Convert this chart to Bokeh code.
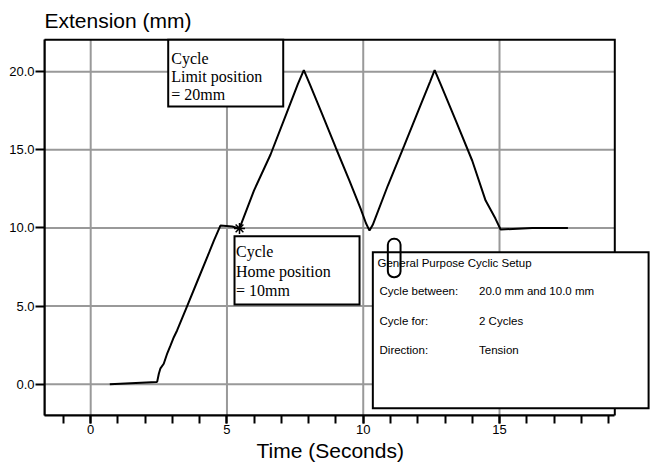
from bokeh.plotting import figure
from bokeh.models import FixedTicker, Label, Range1d, Title
from bokeh.embed import file_html
from bokeh.resources import INLINE

# ---------------- data ----------------
time_s = [0.70, 2.42, 2.44, 2.50, 2.56, 2.68, 2.81, 2.93, 3.05, 3.17, 3.55, 3.95,
          4.35, 4.52, 4.76, 5.19, 5.38, 5.46, 5.99, 6.60, 7.20, 7.60, 7.82, 8.05,
          8.50, 9.00, 9.50, 9.90, 10.10, 10.23, 10.35, 10.90, 11.50, 12.10, 12.45,
          12.62, 12.85, 13.40, 14.00, 14.49, 14.85, 15.04, 16.20, 17.51]
ext_mm = [0.00, 0.15, 0.17, 0.67, 1.02, 1.31, 1.98, 2.48, 3.01, 3.44, 5.05, 6.75,
          8.45, 9.19, 10.15, 10.09, 10.00, 9.97, 12.39, 14.70, 17.40, 19.20, 20.10, 19.15,
          17.25, 15.10, 13.00, 11.25, 10.30, 9.83, 10.20, 12.70, 15.25, 17.85, 19.35,
          20.10, 19.15, 16.85, 14.30, 11.75, 10.60, 9.90, 10.00, 10.00]
home_t = [5.46]
home_mm = [9.97]

x_ticks = [0, 5, 10, 15]
x_tick_labels = ["0", "5", "10", "15"]
x_minor_ticks = [-1, 0, 1, 2, 3, 4, 5, 6, 7, 8, 9, 10, 11, 12, 13, 14, 15, 16, 17, 18, 19]
y_ticks = [0, 5, 10, 15, 20]
y_tick_labels = ["0.0", "5.0", "10.0", "15.0", "20.0"]

x_title = "Time (Seconds)"
y_title = "Extension (mm)"
limit_note = ["Cycle", "Limit position", "= 20mm"]
home_note = ["Cycle", "Home position", "= 10mm"]
setup_title = "General Purpose Cyclic Setup"
setup_keys = ["Cycle between:", "Cycle for:", "Direction:"]
setup_values = ["20.0 mm and 10.0 mm", "2 Cycles", "Tension"]

# ---------------- layout (positions only) ----------------
X_LEFT, X_RIGHT, X_VIEW_END = -1.695, 19.23, 20.54
Y_BOTTOM, Y_TOP, Y_VIEW_END = -2.0, 22.04, 22.25
LIMIT_BOX = (2.844, 7.064, 22.04, 17.77)    # left, right, top, bottom
HOME_BOX = (5.277, 9.864, 9.47, 5.10)
SETUP_BOX = (10.352, 20.47, 8.445, -1.535)
CURSOR_BOX = (10.903, 11.369, 9.303, 6.846)

SANS = "Liberation Sans"
SERIF = "Liberation Serif"
GRID = "#999999"

p = figure(width=652, height=464, output_backend="svg", toolbar_location=None,
           x_range=Range1d(X_LEFT, X_VIEW_END), y_range=Range1d(Y_BOTTOM, Y_VIEW_END),
           min_border_left=44, min_border_right=2, min_border_top=36, min_border_bottom=49)
p.outline_line_color = None
p.xgrid.visible = False
p.ygrid.visible = False
p.background_fill_color = "white"
p.border_fill_color = "white"

p.add_layout(Title(text=y_title, align="left", offset=0, standoff=10,
                   text_font=SANS, text_font_size="21px", text_font_style="normal",
                   text_color="black"), "above")
p.add_layout(Title(text=x_title, align="left", offset=212, standoff=0,
                   text_font=SANS, text_font_size="21px", text_font_style="normal",
                   text_color="black"), "below")

# grid lines (from tick lists)
p.segment(x0=x_ticks, y0=[Y_BOTTOM] * len(x_ticks), x1=x_ticks, y1=[Y_TOP] * len(x_ticks),
          line_color=GRID, line_width=2)
p.segment(x0=[X_LEFT] * len(y_ticks), y0=y_ticks, x1=[X_RIGHT] * len(y_ticks), y1=y_ticks,
          line_color=GRID, line_width=2)

# plot border
p.quad(left=[X_LEFT], right=[X_RIGHT], top=[Y_TOP], bottom=[Y_BOTTOM],
       fill_color=None, line_color="black", line_width=2, line_join="miter")

# curve
p.line(time_s, ext_mm, line_color="black", line_width=2)

# annotation boxes
for box in (LIMIT_BOX, HOME_BOX, SETUP_BOX):
    p.quad(left=[box[0]], right=[box[1]], top=[box[2]], bottom=[box[3]],
           fill_color="white", line_color="black", line_width=2, line_join="miter")

p.scatter(home_t, home_mm, marker="asterisk", size=11, line_color="black", line_width=1.5)
p.quad(left=[CURSOR_BOX[0]], right=[CURSOR_BOX[1]], top=[CURSOR_BOX[2]], bottom=[CURSOR_BOX[3]],
       fill_color=None, line_color="black", line_width=2, border_radius=6)

# axes
xa = p.xaxis[0]
xa.ticker = FixedTicker(ticks=x_ticks, minor_ticks=x_minor_ticks)
xa.major_label_overrides = dict(zip(x_ticks, x_tick_labels))
xa.bounds = (X_LEFT, X_RIGHT)
ya = p.yaxis[0]
ya.ticker = FixedTicker(ticks=y_ticks, minor_ticks=[])
ya.major_label_overrides = dict(zip(y_ticks, y_tick_labels))
ya.bounds = (Y_BOTTOM, Y_TOP)
for ax, out in ((xa, 8), (ya, 9)):
    ax.axis_line_color = "black"
    ax.axis_line_width = 2
    ax.major_tick_line_color = "black"
    ax.major_tick_line_width = 2
    ax.major_tick_in = 0
    ax.major_tick_out = out
    ax.minor_tick_line_color = "black"
    ax.minor_tick_line_width = 2
    ax.minor_tick_in = 0
    ax.minor_tick_out = out
    ax.major_label_text_font = SANS
    ax.major_label_text_font_size = "13px"
    ax.major_label_text_color = "black"
    ax.major_label_standoff = 1
ya.minor_tick_out = 0

# box texts
for i, line in enumerate(limit_note):
    p.add_layout(Label(x=LIMIT_BOX[0], y=LIMIT_BOX[2], x_offset=3, y_offset=-(19 + 18 * i),
                       text=line, text_font=SERIF, text_font_size="16px", text_color="black",
                       text_baseline="alphabetic"))
for i, line in enumerate(home_note):
    p.add_layout(Label(x=HOME_BOX[0], y=HOME_BOX[2], x_offset=1.5, y_offset=-(15.5 + 19.3 * i),
                       text=line, text_font=SERIF, text_font_size="16px", text_color="black",
                       text_baseline="alphabetic"))

p.add_layout(Label(x=SETUP_BOX[0], y=SETUP_BOX[2], x_offset=4.7, y_offset=-10.6,
                   text=setup_title, text_font=SANS, text_font_size="11.5px",
                   text_color="black", text_baseline="middle"))
for i, (k, v) in enumerate(zip(setup_keys, setup_values)):
    dy = -(39 + 29.3 * i)
    p.add_layout(Label(x=SETUP_BOX[0], y=SETUP_BOX[2], x_offset=6.7, y_offset=dy,
                       text=k, text_font=SANS, text_font_size="11.5px",
                       text_color="black", text_baseline="middle"))
    p.add_layout(Label(x=SETUP_BOX[0], y=SETUP_BOX[2], x_offset=106.2, y_offset=dy,
                       text=v, text_font=SANS, text_font_size="11.5px",
                       text_color="black", text_baseline="middle"))

open("out.html", "w").write(file_html(p, INLINE))
